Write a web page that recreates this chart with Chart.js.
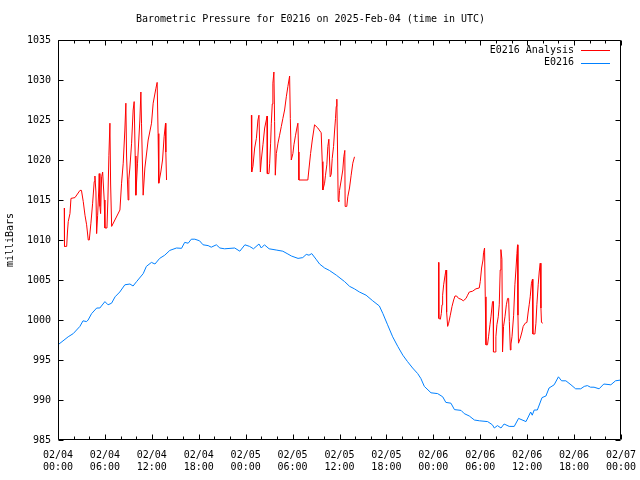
<!DOCTYPE html>
<html>
<head>
<meta charset="utf-8">
<script src="https://cdn.jsdelivr.net/npm/chart.js@4.4.1/dist/chart.umd.min.js"></script>
<style>
  html, body { margin: 0; padding: 0; background: #fff; }
</style>
</head>
<body>
<canvas id="chart" width="640" height="480"></canvas>
<script>
// hours since 2025-02-04 00:00 UTC
const analysisHours = [
  0.80, 0.83, 1.11, 1.21, 1.31, 1.53, 1.66, 2.17, 2.81, 3.00, 3.23, 3.45, 3.66, 3.87, 4.00,
  4.21, 4.43, 4.63, 4.72, 4.85, 4.94, 5.07, 5.20, 5.27, 5.36, 5.45, 5.58, 5.71, 5.91, 6.00,
  6.26, 6.38, 6.51, 6.64, 6.73, 6.86, 7.92, 8.13, 8.34, 8.55, 8.68, 8.77, 8.97, 9.06, 9.19,
  9.41, 9.61, 9.74, 9.87, 9.96, 10.17, 10.47, 10.60, 10.68, 10.89, 11.11, 11.53, 11.96, 12.17, 12.51,
  12.68, 12.80, 12.89, 13.15, 13.37, 13.57, 13.75, 13.79, 13.88,
  20.0,
  24.73, 24.77, 24.93, 25.15, 25.37, 25.57, 25.70, 25.79, 25.88, 26.00, 26.21, 26.43, 26.64, 26.74, 26.77,
  26.98, 27.07, 27.19, 27.28, 27.40, 27.48, 27.61, 27.70, 27.79, 27.92, 28.13, 28.34, 28.56, 28.76, 28.98,
  29.20, 29.40, 29.62, 29.71, 29.83, 30.04, 30.17, 30.38, 30.55, 30.68, 30.77, 30.81, 31.95, 32.08, 32.30,
  32.52, 32.81, 33.23, 33.66, 33.79, 33.87, 34.09, 34.21, 34.38, 34.51, 34.64, 34.73, 34.81, 34.94, 35.07,
  35.24, 35.36, 35.49, 35.58, 35.66, 35.75, 35.83, 35.91, 36.00, 36.22, 36.42, 36.55, 36.68, 36.72, 36.93,
  37.06, 37.28, 37.49, 37.70, 37.92,
  43.0,
  48.68, 48.70, 48.90, 49.02, 49.11, 49.19, 49.32, 49.50, 49.62, 49.70, 49.83, 49.96, 50.17, 50.39, 50.60,
  50.77, 50.98, 51.23, 51.54, 51.83, 52.18, 52.38, 52.60, 53.02, 53.45, 53.87, 54.00, 54.17, 54.35, 54.42,
  54.55, 54.64, 54.73, 54.93, 55.06, 55.24, 55.37, 55.57, 55.66, 55.69, 55.91, 56.00, 56.13, 56.30, 56.43,
  56.55, 56.64, 56.77, 56.85, 56.98, 57.16, 57.34, 57.50, 57.63, 57.72, 57.85, 57.93, 58.06, 58.27, 58.43,
  58.56, 58.69, 58.77, 58.82, 58.89, 59.11, 59.33, 59.49, 59.75, 59.97, 60.13, 60.26, 60.39, 60.55, 60.68,
  60.73, 60.99, 61.12, 61.24, 61.41, 61.54, 61.67, 61.76, 61.83, 62.00
];
const analysisValues = [
  1014.0, 1009.2, 1009.2, 1011.0, 1012.3, 1013.3, 1015.2, 1015.3, 1016.2, 1016.2, 1014.8, 1013.1, 1011.9, 1010.0, 1010.0,
  1012.1, 1014.6, 1017.3, 1018.0, 1016.0, 1010.8, 1013.1, 1016.0, 1018.3, 1014.2, 1013.3, 1017.9, 1018.5, 1015.0, 1011.5,
  1011.5, 1015.0, 1020.6, 1024.6, 1017.0, 1011.7, 1013.75, 1017.1, 1019.6, 1023.75, 1027.1, 1020.5, 1015.0, 1017.6, 1019.0,
  1022.1, 1026.25, 1027.3, 1020.5, 1015.6, 1019.6, 1025.0, 1028.5, 1024.6, 1015.6, 1019.0, 1022.5, 1024.6, 1027.1, 1028.9,
  1029.7, 1023.3, 1017.1, 1018.5, 1020.0, 1022.9, 1024.6, 1021.0, 1017.5,
  null,
  1025.6, 1018.5, 1019.2, 1021.5, 1022.7, 1025.0, 1025.6, 1022.0, 1018.5, 1020.0, 1021.9, 1024.0, 1025.0, 1025.5, 1018.3,
  1018.3, 1019.6, 1022.1, 1024.6, 1027.0, 1029.6, 1031.0, 1024.8, 1018.1, 1020.8, 1022.1, 1023.1, 1024.2, 1025.2, 1026.25,
  1027.9, 1029.2, 1030.5, 1025.2, 1020.0, 1020.8, 1021.9, 1023.1, 1024.0, 1024.6, 1021.0, 1017.5, 1017.5, 1018.75, 1020.8,
  1022.5, 1024.4, 1024.0, 1023.4, 1019.8, 1016.25, 1017.1, 1018.1, 1019.4, 1021.7, 1022.6, 1020.0, 1017.9, 1018.2, 1020.2,
  1021.7, 1023.5, 1025.2, 1026.7, 1027.6, 1021.25, 1015.0, 1014.8, 1016.2, 1017.5, 1018.75, 1020.4, 1021.2, 1014.2, 1014.2,
  1015.4, 1016.5, 1018.1, 1019.6, 1020.4,
  null,
  1007.2, 1000.2, 1000.1, 1000.8, 1001.9, 1003.1, 1004.4, 1005.6, 1006.25, 1001.0, 999.2, 999.6, 1000.6, 1001.7, 1002.5,
  1003.0, 1003.0, 1002.7, 1002.6, 1002.4, 1002.7, 1003.1, 1003.5, 1003.6, 1003.9, 1004.0, 1004.8, 1006.5, 1007.5, 1008.4,
  1009.0, 1002.9, 996.9, 996.9, 997.9, 999.4, 1000.4, 1002.3, 1002.3, 996.0, 996.0, 997.9, 999.4, 1000.4, 1001.9,
  1006.25, 1008.8, 1007.6, 996.0, 999.2, 1000.4, 1001.9, 1002.7, 1002.7, 999.8, 996.25, 997.0, 997.9, 1000.6, 1004.4,
  1006.25, 1008.3, 1009.4, 1000.6, 997.1, 997.7, 998.5, 999.2, 999.6, 999.7, 1001.0, 1001.9, 1002.9, 1004.6, 1005.1,
  998.25, 998.25, 999.6, 1001.9, 1004.4, 1006.0, 1007.1, 1001.5, 999.7, 999.6
];

const stationHours = [
  0.0, 1.3, 1.95, 2.8, 3.2, 3.65, 3.85, 4.3, 4.95, 5.35, 6.0, 6.4, 6.85, 7.3, 7.9,
  8.55, 9.2, 9.6, 10.05, 10.9, 11.3, 11.95, 12.4, 13.0, 13.65, 14.3, 15.15, 15.8, 16.2, 16.65,
  17.05, 17.5, 18.1, 18.55, 19.2, 19.6, 20.25, 20.7, 21.3, 22.6, 23.25, 23.9, 24.5, 25.0, 25.7,
  26.0, 26.4, 27.0, 27.9, 28.75, 29.4, 29.85, 30.7, 31.3, 31.75, 32.1, 32.45, 33.0, 33.45, 34.1,
  34.7, 35.6, 36.65, 37.3, 37.9, 38.55, 39.4, 40.25, 41.1, 41.55, 42.15, 42.8, 43.45, 44.1, 44.7,
  45.35, 46.0, 46.4, 46.85, 47.7, 48.55, 49.2, 49.6, 50.25, 50.7, 51.55, 51.95, 52.6, 53.25, 53.9,
  54.95, 55.55, 55.8, 56.2, 56.65, 57.05, 57.7, 58.35, 58.9, 59.85, 60.45, 60.65, 60.9, 61.3, 61.9,
  62.4, 62.8, 63.45, 64.0, 64.4, 64.95, 65.6, 66.2, 66.85, 67.3, 67.7, 68.1, 68.55, 69.2, 69.8,
  70.7, 71.3, 72.0
];
const stationValues = [
  996.9, 997.9, 998.3, 999.2, 999.9, 999.8, 1000.0, 1000.8, 1001.5, 1001.5, 1002.3, 1001.9, 1002.1, 1002.9, 1003.5,
  1004.4, 1004.5, 1004.25, 1004.8, 1005.8, 1006.7, 1007.2, 1007.0, 1007.7, 1008.1, 1008.7, 1009.0, 1008.96, 1009.7, 1009.6,
  1010.1, 1010.1, 1009.9, 1009.4, 1009.3, 1009.1, 1009.4, 1009.0, 1008.9, 1009.0, 1008.6, 1009.4, 1009.2, 1008.9, 1009.5,
  1009.0, 1009.4, 1008.9, 1008.75, 1008.6, 1008.25, 1008.0, 1007.7, 1007.8, 1008.2, 1008.1, 1008.3, 1007.6, 1007.0, 1006.5,
  1006.2, 1005.6, 1004.8, 1004.2, 1003.9, 1003.5, 1003.1, 1002.4, 1001.75, 1000.8, 999.4, 997.9, 996.7, 995.6, 994.8,
  994.0, 993.3, 992.7, 991.7, 990.9, 990.8, 990.4, 989.7, 989.6, 988.8, 988.7, 988.3, 988.0, 987.5, 987.4,
  987.3, 986.9, 986.5, 986.8, 986.5, 987.0, 986.7, 986.7, 987.7, 987.3, 988.5, 988.1, 988.75, 988.75, 990.3,
  990.5, 991.5, 991.9, 992.9, 992.4, 992.4, 991.9, 991.4, 991.4, 991.7, 991.8, 991.6, 991.6, 991.4, 992.0,
  991.9, 992.4, 992.5
];

const xTickDates = ['02/04', '02/04', '02/04', '02/04', '02/05', '02/05', '02/05', '02/05', '02/06', '02/06', '02/06', '02/06', '02/07'];
const xTickTimes = ['00:00', '06:00', '12:00', '18:00', '00:00', '06:00', '12:00', '18:00', '00:00', '06:00', '12:00', '18:00', '00:00'];

Chart.defaults.font.family = "'DejaVu Sans Mono', monospace";
Chart.defaults.font.size = 10;
Chart.defaults.color = '#000';

// gnuplot-style frame with inward ticks on all four sides, plus the inset key
const frameAndKey = {
    id: 'frameAndKey',
    afterDatasetsDraw(chart) {
        const ctx = chart.ctx;
        const a = chart.chartArea;
        const x = chart.scales.x;
        const y = chart.scales.y;
        const L = Math.round(a.left) + 0.5, R = Math.round(a.right) - 0.5;
        const T = Math.round(a.top) + 0.5, B = Math.round(a.bottom) - 0.5;
        ctx.save();
        ctx.strokeStyle = '#000';
        ctx.lineWidth = 1;
        ctx.beginPath();
        ctx.rect(L, T, R - L, B - T);
        for (let h = 0; h <= 72; h += 2) {
            const px = Math.round(x.getPixelForValue(h)) + 0.5;
            const len = h % 6 === 0 ? 5 : 3;
            ctx.moveTo(px, B); ctx.lineTo(px, B - len);
            ctx.moveTo(px, T); ctx.lineTo(px, T + len);
        }
        for (let v = 985; v <= 1035; v += 5) {
            const py = Math.round(y.getPixelForValue(v)) + 0.5;
            ctx.moveTo(L, py); ctx.lineTo(L + 5, py);
            ctx.moveTo(R, py); ctx.lineTo(R - 5, py);
        }
        ctx.stroke();

        // key, top right inside the plot
        ctx.font = "10px 'DejaVu Sans Mono', monospace";
        ctx.textAlign = 'right';
        ctx.textBaseline = 'middle';
        chart.data.datasets.forEach((ds, i) => {
            const ky = 50 + i * 12.5;
            ctx.fillStyle = '#000';
            ctx.fillText(ds.label, 574, ky);
            ctx.strokeStyle = ds.borderColor;
            ctx.beginPath();
            ctx.moveTo(581, Math.round(ky) + 0.5);
            ctx.lineTo(610, Math.round(ky) + 0.5);
            ctx.stroke();
        });
        ctx.restore();
    }
};

new Chart(document.getElementById('chart'), {
    type: 'line',
    data: {
        datasets: [
            {
                label: 'E0216 Analysis',
                data: analysisHours.map((h, i) => ({x: h, y: analysisValues[i]})),
                borderColor: '#ff0000',
                borderWidth: 1,
                pointRadius: 0,
                tension: 0,
                spanGaps: false
            },
            {
                label: 'E0216',
                data: stationHours.map((h, i) => ({x: h, y: stationValues[i]})),
                borderColor: '#0080ff',
                borderWidth: 1,
                pointRadius: 0,
                tension: 0
            }
        ]
    },
    options: {
        responsive: false,
        animation: false,
        layout: {
            padding: {left: 0, right: 19, top: 0, bottom: 0}
        },
        scales: {
            x: {
                type: 'linear',
                min: 0,
                max: 72,
                grid: {display: false, drawTicks: false},
                border: {display: false},
                afterFit: s => {
                    s.height = 40;
                    s.paddingLeft = 0;
                    s.paddingRight = 0;
                },
                afterBuildTicks: s => { s.ticks = xTickDates.map((d, i) => ({value: i * 6})); },
                ticks: {
                    autoSkip: false,
                    maxRotation: 0,
                    padding: 9,
                    callback: (v, i) => [xTickDates[i], xTickTimes[i]]
                }
            },
            y: {
                min: 985,
                max: 1035,
                grid: {display: false, drawTicks: false},
                border: {display: false},
                afterFit: s => {
                    s.width = 58;
                    s.paddingTop = 0;
                    s.paddingBottom = 0;
                },
                ticks: {
                    stepSize: 5,
                    padding: 7,
                    callback: v => String(v)
                },
                title: {
                    display: true,
                    text: 'milliBars',
                    padding: {top: 4, bottom: 0}
                }
            }
        },
        plugins: {
            legend: {display: false},
            tooltip: {enabled: false},
            title: {
                display: true,
                text: 'Barometric Pressure for E0216 on 2025-Feb-04 (time in UTC)',
                font: {size: 10, weight: 'normal'},
                padding: {top: 13, bottom: 15}
            }
        }
    },
    plugins: [frameAndKey]
});
</script>
</body>
</html>
